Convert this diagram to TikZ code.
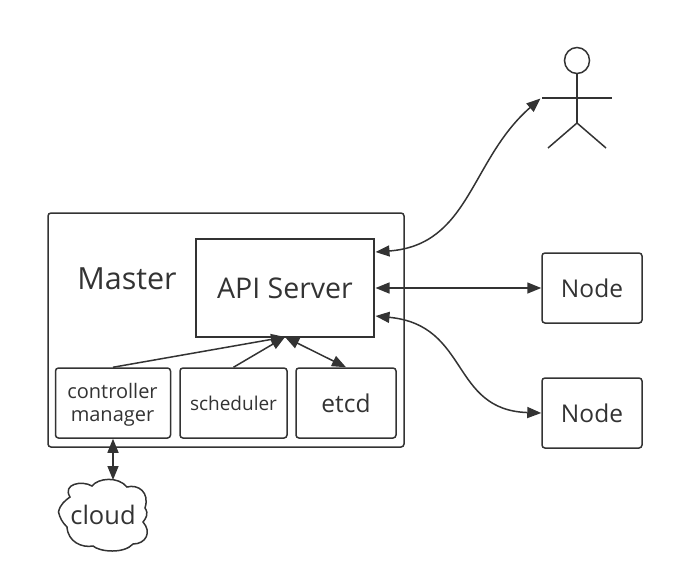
\documentclass[tikz,border=0pt]{standalone}
\usepackage{fontspec}
\setmainfont{Open Sans}
\usetikzlibrary{arrows.meta}
\definecolor{inkgrey}{HTML}{333333}
\tikzset{
	box/.style={draw=inkgrey, line width=1.5pt, rounded corners=3pt, text=inkgrey, align=center, inner sep=0pt},
	conn/.style={draw=inkgrey, line width=1.5pt, {Triangle[length=14pt,width=11pt]}-{Triangle[length=14pt,width=11pt]}},
	single/.style={draw=inkgrey, line width=1.5pt, -{Triangle[length=14pt,width=11pt]}},
	stick/.style={draw=inkgrey, line width=1.5pt},
}
\begin{document}
\begin{tikzpicture}[x=1pt, y=-1pt]
	\useasboundingbox (0,0) rectangle (674,582);
	% master
	\node [box, minimum width=356pt, minimum height=234pt] (master) at (226,330) {};
	\node [text=inkgrey, font=\fontsize{30.5}{36}\selectfont] (mastertext) at (127,279) {Master};
	\node [box, rounded corners=0pt, minimum width=178pt, minimum height=98pt, font=\fontsize{28.5}{34}\selectfont] (api) at (285,288) {API Server};
	\node [box, minimum width=115pt, minimum height=70pt] (ctrl) at (113,403) {};
	\node [text=inkgrey, align=center, inner sep=0pt, font=\fontsize{20}{23.5}\selectfont] (ctrltext) at (112.5,405) {controller\\manager};
	\node [box, minimum width=107pt, minimum height=70pt, font=\fontsize{19}{23}\selectfont] (sched) at (233.5,403) {scheduler};
	\node [box, minimum width=100pt, minimum height=70pt, font=\fontsize{24.5}{29}\selectfont] (etcd) at (346,403) {etcd};
	\node [box, minimum width=100pt, minimum height=70pt, font=\fontsize{24.5}{29}\selectfont] (node1) at (592,288) {Node};
	\node [box, minimum width=100pt, minimum height=70pt, font=\fontsize{24.5}{29}\selectfont] (node2) at (592,413) {Node};
	% cloud
	\draw [stick] (58.5,512)
		.. controls (60,504) and (66,500) .. (70,497)
		.. controls (62,484) and (82,480) .. (92,486)
		.. controls (98,478) and (118,476) .. (127,487)
		.. controls (138,484) and (150,492) .. (145,508)
		.. controls (149,514) and (146,518) .. (143,522)
		.. controls (152,532) and (146,544) .. (133,544)
		.. controls (124,554) and (100,552) .. (93,546)
		.. controls (82,548) and (68,542) .. (67,527)
		.. controls (62,522) and (60,518) .. (58.5,512) -- cycle;
	\node [text=inkgrey, font=\fontsize{25.5}{30}\selectfont] (cloud) at (103,515) {cloud};
	\coordinate (cloudtop) at (113,480);
	% actor
	\draw [stick] (577,60.5) ellipse (12.5 and 13);
	\draw [stick] (577,73.5) -- (577,123);
	\draw [stick] (542,98) -- (612,98);
	\draw [stick] (548,148) -- (577,123) -- (606,148);
	\coordinate (actorhand) at (540.5,98.5);
	% connectors
	\coordinate (apiuser) at (375.5,252);
	\coordinate (apinode1) at (375.5,288);
	\coordinate (apinode2) at (375.5,316);
	\coordinate (apibottom) at (285,337);
	\draw [conn] (apiuser) .. controls (470,245) and (470,160) .. (actorhand);
	\draw [conn] (apinode1) -- (node1.west);
	\draw [conn] (apinode2) .. controls (470,325) and (450,410) .. (node2.west);
	\draw [single] (ctrl.north) -- (apibottom);
	\draw [single] (sched.north) -- (apibottom);
	\draw [conn] (apibottom) -- (etcd.north);
	\draw [conn] (ctrl.south) -- (cloudtop);
\end{tikzpicture}
\end{document}
